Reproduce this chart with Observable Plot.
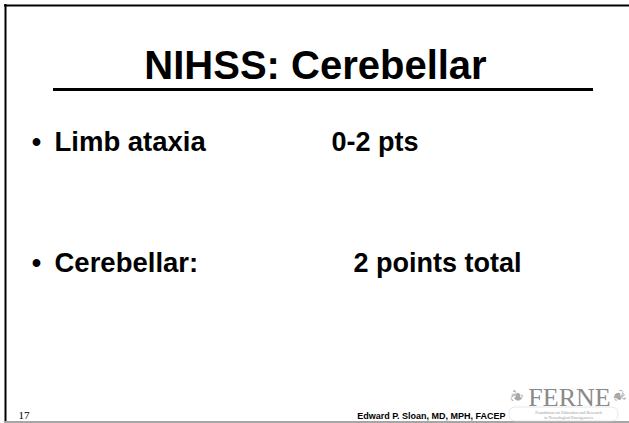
<!DOCTYPE html>
<html>
<head>
<meta charset="utf-8">
<script src="https://cdn.jsdelivr.net/npm/d3@7"></script>
<script src="https://cdn.jsdelivr.net/npm/@observablehq/plot@0.6"></script>
<style>
  html, body { margin: 0; padding: 0; background: #fff; }
  svg { display: block; }
</style>
</head>
<body>
<div id="chart"></div>
<script>
// ---- content (data) ----
const titleText = ["NIHSS: Cerebellar"];
const bulletLabels = ["Limb ataxia", "Cerebellar:"];
const bulletValues = ["0-2 pts", "2 points total"];
const slideNumber = ["17"];
const authorText = ["Edward P. Sloan, MD, MPH, FACEP"];
const logoText = ["FERNE"];
const logoSub = ["Foundation for Education and Research", "in Neurological Emergencies"];
const logoLeaves = ["❦", "❦"];

// ---- layout (positions in slide pixels) ----
const W = 629, H = 423;
const rowsY = [150, 271];
const valueX = [331, 353];
const leafX = [517, 618];
const sans = "Arial, 'Liberation Sans', sans-serif";
const serif = "'Times New Roman', 'Liberation Serif', serif";

const rows = bulletLabels.map((label, i) => ({label, value: bulletValues[i], y: rowsY[i], vx: valueX[i]}));
const leaves = logoLeaves.map((g, i) => ({g, x: leafX[i], flip: i === 0}));

const chart = Plot.plot({
  width: W,
  height: H,
  margin: 0,
  x: {domain: [0, W], range: [0, W], axis: null},
  y: {domain: [0, H], range: [0, H], axis: null},
  style: {background: "#fff", fontFamily: sans},
  marks: [
    // slide frame
    Plot.ruleY([5], {x1: 4, x2: W, stroke: "#000", strokeWidth: 2}),
    Plot.ruleX([5], {y1: 4, y2: 421, stroke: "#000", strokeWidth: 2}),
    Plot.ruleY([421.5], {x1: 4, x2: W, stroke: "#888", strokeWidth: 1.5}),
    // title
    Plot.text(titleText, {x: 315, y: 78, text: d => d, fontSize: 40, fontWeight: "bold", fill: "#000", textAnchor: "middle", lineAnchor: "bottom"}),
    Plot.ruleY([89], {x1: 53, x2: 593, stroke: "#000", strokeWidth: 3}),
    // bullets
    Plot.text(rows, {x: 36, y: "y", text: () => "•", fontSize: 27, fontWeight: "bold", fill: "#000", textAnchor: "middle", lineAnchor: "bottom"}),
    Plot.text(rows, {x: 54, y: "y", text: "label", fontSize: 27.5, fontWeight: "bold", fill: "#000", textAnchor: "start", lineAnchor: "bottom"}),
    Plot.text(rows, {x: "vx", y: "y", text: "value", fontSize: 27, fontWeight: "bold", fill: "#000", textAnchor: "start", lineAnchor: "bottom"}),
    // footer
    Plot.text(slideNumber, {x: 18, y: 418, text: d => d, fontSize: 11, fontFamily: serif, fill: "#000", textAnchor: "start", lineAnchor: "bottom"}),
    Plot.text(authorText, {x: 505, y: 418, text: d => d, fontSize: 9, fontWeight: "bold", fill: "#000", textAnchor: "end", lineAnchor: "bottom"}),
    // logo
    Plot.rect([0], {x1: 509, x2: 618, y1: 407, y2: 421, stroke: "#ddd", strokeWidth: 0.7, fill: "none", rx: 6}),
    Plot.text(logoText, {x: 569, y: 405, text: d => d, fontSize: 26, fontFamily: serif, fill: "#8a8a8a", textAnchor: "middle", lineAnchor: "bottom", letterSpacing: 1.5}),
    Plot.text(logoSub, {x: 568, y: (d, i) => 413.5 + i * 5, text: d => d, fontSize: 4.2, fontFamily: serif, fill: "#999", textAnchor: "middle", lineAnchor: "bottom"}),
    Plot.text(leaves, {x: "x", y: 396, text: "g", fontSize: 16, fontFamily: "'DejaVu Sans', sans-serif", fill: "#a8a8a8", textAnchor: "middle", rotate: d => d.flip ? -70 : 70})
  ]
});
document.getElementById("chart").appendChild(chart);
</script>
</body>
</html>
